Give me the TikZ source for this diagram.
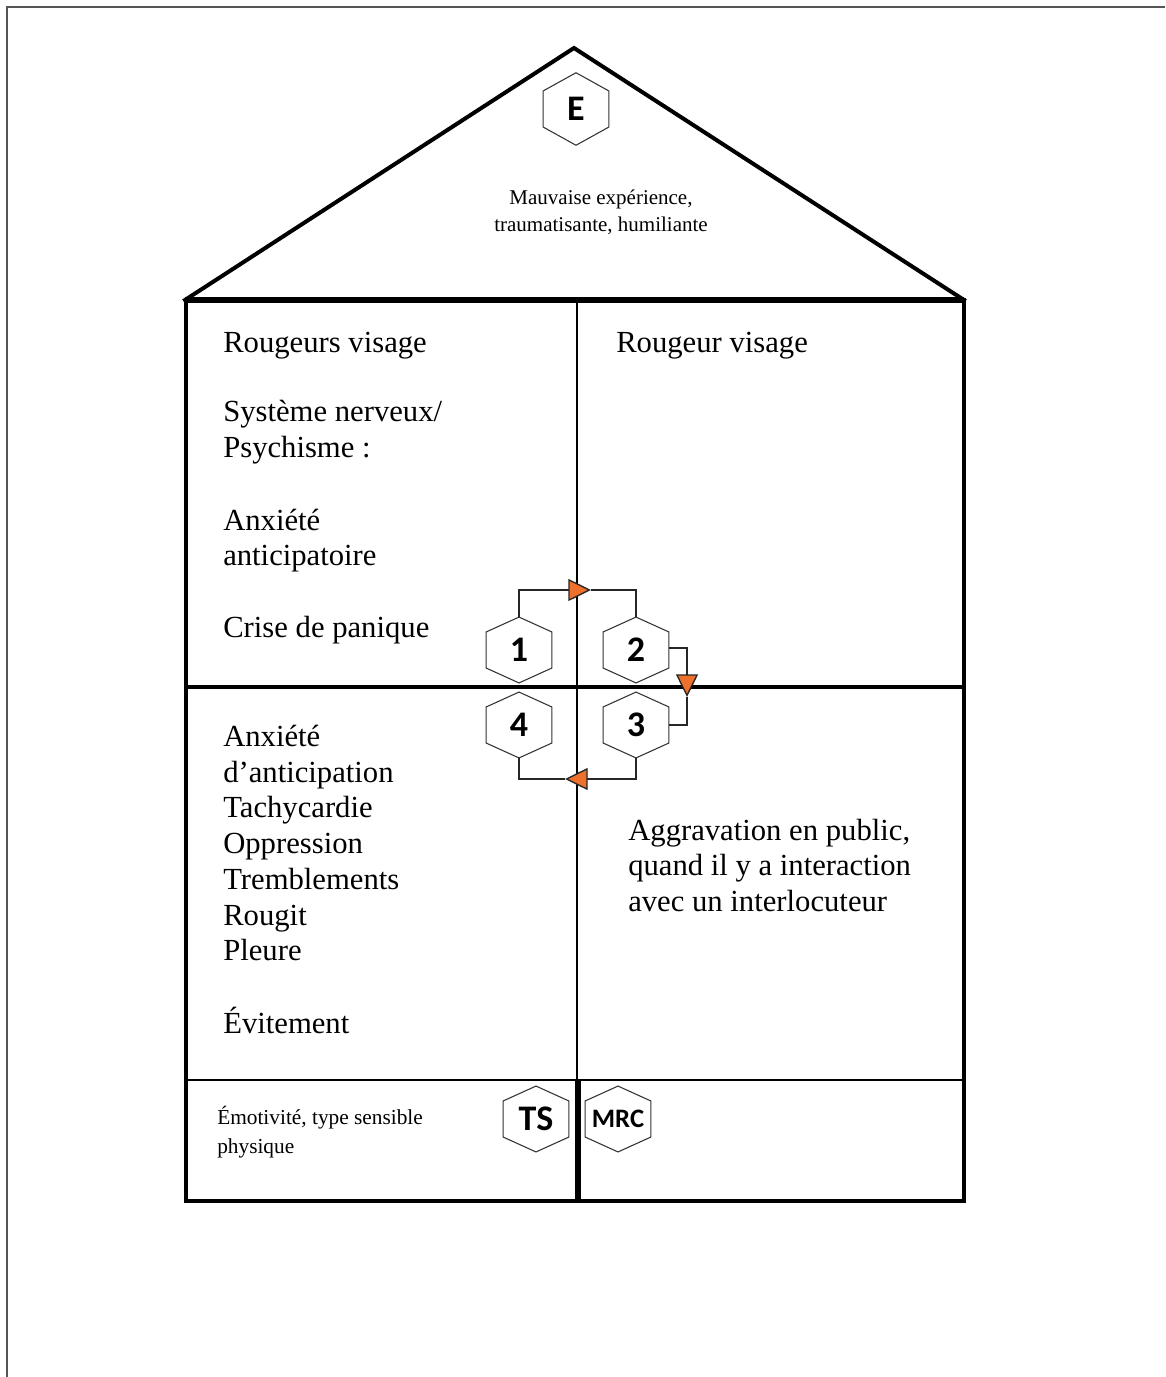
\documentclass[tikz,border=0pt]{standalone}
\usepackage{fontspec}
\setmainfont{Liberation Serif}
\newfontfamily\hexfam{Carlito}
\usetikzlibrary{arrows.meta}
\definecolor{arroworange}{RGB}{237,112,45}
\definecolor{framegray}{RGB}{85,85,85}
\newcommand{\hexdraw}[2]{\draw[hexline] (#1.north) -- ([yshift=#2]#1.east) -- ([yshift=-#2]#1.east) -- (#1.south) -- ([yshift=-#2]#1.west) -- ([yshift=#2]#1.west) -- cycle;}
\tikzset{
  hexbox/.style={minimum width=49pt, minimum height=49pt, inner sep=0pt, font=\hexfam\bfseries\fontsize{27pt}{27pt}\selectfont},
  hexline/.style={draw=black!80, line width=0.8pt},
  conn/.style={draw=black!85, line width=1pt},
  tipo/.style={-{Triangle[length=17pt,width=16.5pt,fill=arroworange]}},
  wall/.style={line width=3pt, line cap=rect},
  body/.style={anchor=base west, inner sep=0pt, font=\fontsize{23pt}{27pt}\selectfont},
  small/.style={anchor=base west, inner sep=0pt, font=\fontsize{16pt}{20pt}\selectfont},
}
\begin{document}
\begin{tikzpicture}[x=0.75pt,y=-0.75pt]
\useasboundingbox (0,0) rectangle (1165,1377);
% page frame
\draw[framegray, line width=1.5pt] (7,1377) -- (7,7) -- (1165,7);
% house
\draw[wall] (185,300) -- (574,48) -- (964,300);
\draw[line width=4pt] (185,300) -- (964,300);
\draw[wall] (186,300) -- (186,1201) -- (964,1201) -- (964,300);
\draw[line width=3pt] (186,687) -- (964,687);
\draw[line width=2pt] (186,1080) -- (964,1080);
\draw[line width=2.2pt] (577,300) -- (577,1080);
\draw[line width=4pt] (578,1080) -- (578,1201);
% roof
\node[hexbox, minimum height=54pt] (E) at (576,109) {E};
\hexdraw{E}{13.5pt}
\node[inner sep=0pt, align=center, font=\fontsize{15.75pt}{20.25pt}\selectfont] (roof) at (601,212) {Mauvaise expérience,\\traumatisante, humiliante};
% upper left
\node[body] (ul1) at (223,352) {Rougeurs visage};
\node[body] (ul2) at (223,421) {Système nerveux/};
\node[body] (ul3) at (223,457) {Psychisme :};
\node[body] (ul4) at (223,530) {Anxiété};
\node[body] (ul5) at (223,565) {anticipatoire};
\node[body] (ul6) at (223,637) {Crise de panique};
% upper right
\node[body] (ur1) at (616,352) {Rougeur visage};
% lower left
\node[body] (ll1) at (223,746) {Anxiété};
\node[body] (ll2) at (223,782) {d’anticipation};
\node[body] (ll3) at (223,817) {Tachycardie};
\node[body] (ll4) at (223,853) {Oppression};
\node[body] (ll5) at (223,889) {Tremblements};
\node[body] (ll6) at (223,925) {Rougit};
\node[body] (ll7) at (223,960) {Pleure};
\node[body] (ll8) at (223,1033) {Évitement};
% lower right
\node[body] (lr1) at (628,840) {Aggravation en public,};
\node[body] (lr2) at (628,875) {quand il y a interaction};
\node[body] (lr3) at (628,911) {avec un interlocuteur};
% bottom
\node[small] (b1) at (217,1124) {Émotivité, type sensible};
\node[small] (b2) at (217,1153) {physique};
\node[hexbox] (TS) at (536,1119) {TS};
\hexdraw{TS}{13.5pt}
\node[hexbox, font=\hexfam\bfseries\fontsize{20pt}{20pt}\selectfont] (MRC) at (618,1119) {MRC};
\hexdraw{MRC}{13.5pt}
% cycle hexagons
\node[hexbox] (h1) at (519,650) {1};
\node[hexbox] (h2) at (636,650) {2};
\node[hexbox] (h3) at (636,725) {3};
\node[hexbox] (h4) at (519,725) {4};
\hexdraw{h1}{13.5pt}
\hexdraw{h2}{13.5pt}
\hexdraw{h3}{13.5pt}
\hexdraw{h4}{13.5pt}
% connectors
\coordinate (c1) at (591,590);
\coordinate (c2) at (687,697);
\coordinate (c3) at (565,779);
\draw[conn, tipo] (h1.north) |- (c1);
\draw[conn] (c1) -| (h2.north);
\draw[conn, tipo] ([yshift=1.5pt]h2.east) -| (c2);
\draw[conn] (c2) |- (h3.east);
\draw[conn, tipo] (h3.south) |- (c3);
\draw[conn] (c3) -| (h4.south);
\end{tikzpicture}
\end{document}
